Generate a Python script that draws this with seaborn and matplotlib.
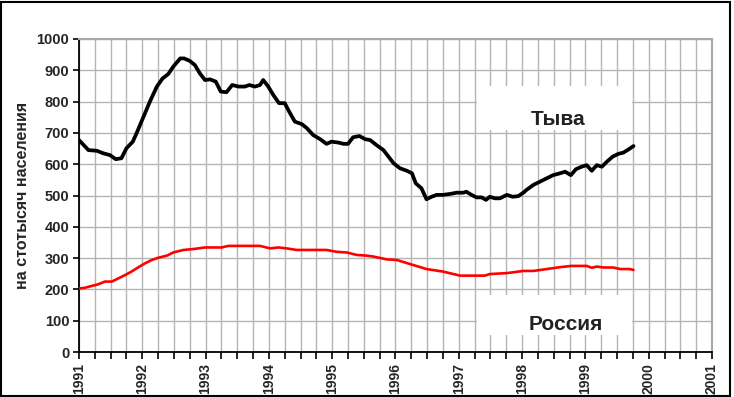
import matplotlib
matplotlib.use("Agg")
import matplotlib.pyplot as plt
import seaborn as sns
import pandas as pd
from matplotlib.ticker import FixedLocator, MultipleLocator
from matplotlib.patches import Rectangle

# ---- data ----
tyva_x = [1991.00, 1991.15, 1991.28, 1991.38, 1991.49, 1991.58, 1991.67, 1991.75, 1991.85, 1991.92,
          1992.02, 1992.12, 1992.23, 1992.32, 1992.41, 1992.49, 1992.60, 1992.66, 1992.75, 1992.83,
          1992.91, 1992.99, 1993.07, 1993.16, 1993.24, 1993.33, 1993.42, 1993.52, 1993.62, 1993.69,
          1993.78, 1993.86, 1993.91, 1993.99, 1994.07, 1994.16, 1994.25, 1994.32, 1994.41, 1994.52,
          1994.60, 1994.70, 1994.81, 1994.91, 1994.99, 1995.10, 1995.18, 1995.25, 1995.33, 1995.43,
          1995.52, 1995.60, 1995.70, 1995.81, 1995.89, 1995.97, 1996.07, 1996.18, 1996.26, 1996.32,
          1996.41, 1996.49, 1996.57, 1996.65, 1996.75, 1996.86, 1996.97, 1997.07, 1997.12, 1997.20,
          1997.28, 1997.36, 1997.43, 1997.49, 1997.57, 1997.65, 1997.76, 1997.85, 1997.94, 1998.02,
          1998.07, 1998.18, 1998.28, 1998.39, 1998.49, 1998.60, 1998.68, 1998.77, 1998.85, 1998.94,
          1999.02, 1999.10, 1999.18, 1999.26, 1999.34, 1999.43, 1999.52, 1999.60, 1999.68, 1999.76]
tyva_y = [677, 645, 643, 635, 629, 616, 619, 651, 672, 704,
          752, 800, 848, 874, 888, 912, 938, 938, 930, 917,
          890, 869, 871, 864, 832, 830, 853, 848, 848, 853,
          848, 853, 869, 848, 821, 795, 795, 768, 736, 728,
          715, 693, 680, 665, 672, 669, 665, 665, 686, 690,
          680, 677, 661, 645, 624, 603, 587, 579, 571, 539,
          523, 488, 496, 502, 502, 505, 509, 509, 512, 502,
          494, 494, 486, 496, 491, 491, 502, 496, 498, 509,
          518, 534, 544, 555, 565, 571, 576, 565, 584, 592,
          597, 579, 597, 592, 608, 624, 633, 637, 647, 658]

russia_x = [1991.00, 1991.09, 1991.20, 1991.30, 1991.41, 1991.52, 1991.62, 1991.73, 1991.83, 1991.94,
            1992.04, 1992.15, 1992.25, 1992.39, 1992.49, 1992.65, 1992.81, 1992.99, 1993.25, 1993.36,
            1993.86, 1994.02, 1994.15, 1994.28, 1994.44, 1994.91, 1995.07, 1995.23, 1995.39, 1995.54,
            1995.65, 1995.86, 1996.02, 1996.23, 1996.49, 1996.75, 1997.02, 1997.41, 1997.49, 1997.76,
            1998.02, 1998.18, 1998.39, 1998.60, 1998.78, 1999.02, 1999.10, 1999.18, 1999.28, 1999.44,
            1999.55, 1999.70, 1999.76]
russia_y = [203, 205, 211, 216, 225, 225, 235, 246, 257, 271,
            283, 294, 301, 308, 318, 326, 329, 334, 334, 339,
            339, 331, 334, 331, 326, 326, 320, 318, 310, 308,
            305, 296, 294, 281, 265, 257, 244, 244, 249, 252,
            259, 259, 265, 271, 275, 275, 269, 273, 270, 270,
            265, 265, 262]

year_ticks = list(range(1991, 2002))
value_ticks = list(range(0, 1001, 100))
series_labels = ["Тыва", "Россия"]
y_title = "на стотысяч населения"

# ---- plot ----
sns.set_style("white")
plt.rcParams["font.family"] = ["Liberation Sans", "DejaVu Sans"]

W, H = 734, 397
fig = plt.figure(figsize=(W / 100, H / 100), dpi=100)
L, R, T, B = 79, 712, 39, 352
ax = fig.add_axes([L / W, 1 - B / H, (R - L) / W, (B - T) / H])

df_t = pd.DataFrame({"x": tyva_x, "y": tyva_y})
df_r = pd.DataFrame({"x": russia_x, "y": russia_y})
sns.lineplot(data=df_t, x="x", y="y", color="black", lw=2.7, ax=ax,
             estimator=None, sort=False, zorder=4)
sns.lineplot(data=df_r, x="x", y="y", color="#ff0000", lw=1.9, ax=ax,
             estimator=None, sort=False, zorder=4)

ax.set_xlim(1991, 2001)
ax.set_ylim(0, 1000)
ax.xaxis.set_major_locator(FixedLocator(year_ticks))
ax.xaxis.set_minor_locator(MultipleLocator(0.25))
ax.yaxis.set_major_locator(FixedLocator(value_ticks))

ax.grid(False)
ax.grid(axis="x", which="both", color="#b4b4b4", lw=1.0, zorder=0)
ax.grid(axis="y", which="major", color="#b4b4b4", lw=1.0, zorder=0)
ax.set_axisbelow(True)

for side in ["left", "bottom"]:
    ax.spines[side].set_color("black")
    ax.spines[side].set_linewidth(1.3)
for side in ["top", "right"]:
    ax.spines[side].set_color("#a8a8a8")
    ax.spines[side].set_linewidth(1.5)

ax.tick_params(axis="x", which="both", bottom=True, direction="out",
               length=5, width=1.2, color="black", pad=3)
ax.tick_params(axis="y", which="major", left=True, direction="out",
               length=4, width=1.2, color="black", pad=3)
ax.set_xticklabels([str(y) for y in year_ticks], rotation=90,
                   fontsize=10, fontweight="bold")
ax.set_yticklabels([str(v) for v in value_ticks], fontsize=10.5, fontweight="bold")

ax.set_xlabel("")
ax.set_ylabel(y_title, fontsize=11.5, fontweight="bold")
ax.yaxis.set_label_coords(-0.078, 0.50)

# label boxes
def px_to_year(px):
    return 1991 + (px - L) / (R - L) * 10

def px_to_val(py):
    return (B - py) / (B - T) * 1000

ax.add_patch(Rectangle((px_to_year(477), px_to_val(130)),
                       px_to_year(632) - px_to_year(477), px_to_val(86) - px_to_val(130),
                       facecolor="white", edgecolor="none", zorder=2))
ax.add_patch(Rectangle((px_to_year(477), px_to_val(335)),
                       px_to_year(632) - px_to_year(477), px_to_val(295) - px_to_val(335),
                       facecolor="white", edgecolor="none", zorder=2))
ax.text(px_to_year(531), px_to_val(125), series_labels[0], fontsize=15,
        fontweight="bold", color="#222222", ha="left", va="baseline", zorder=3)
ax.text(px_to_year(529), px_to_val(330), series_labels[1], fontsize=15,
        fontweight="bold", color="#222222", ha="left", va="baseline", zorder=3)

# figure frame
fig.add_artist(Rectangle((1.5 / W, 1.5 / H), (730 - 1.5) / W, (H - 3) / H,
                         transform=fig.transFigure, fill=False,
                         edgecolor="black", lw=1.5))

fig.savefig("out.png", dpi=100)
